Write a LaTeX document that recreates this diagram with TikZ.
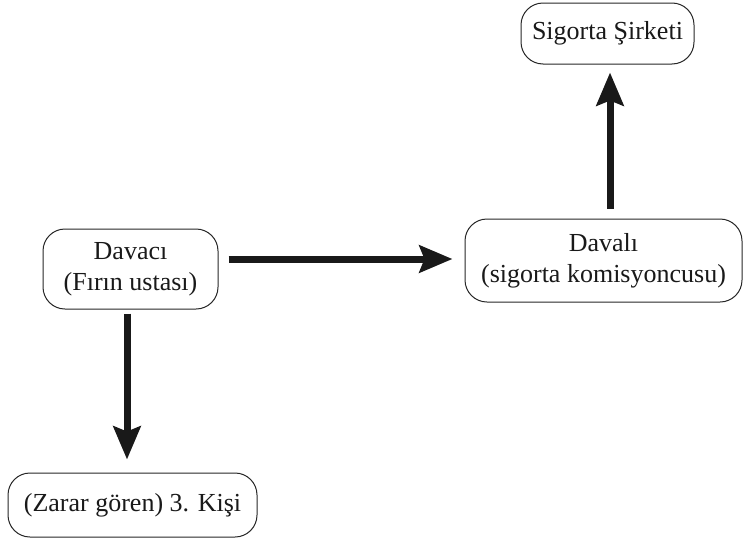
\documentclass[tikz,border=0pt]{standalone}
\usepackage{fontspec}
\setmainfont{Liberation Serif}
\usetikzlibrary{arrows.meta}
\begin{document}
\begin{tikzpicture}[x=1pt,y=-1pt,
  box/.style={draw=black!85, line width=1pt, rounded corners=22pt, align=center,
    inner sep=0pt, font=\fontsize{26pt}{31pt}\selectfont, text=black!90},
  arr/.style={line width=7pt, black!90, -{Stealth[length=33pt,width=27pt,inset=5pt]}}]
\useasboundingbox (0,0) rectangle (743,538);
\node[box, minimum width=173pt, minimum height=61pt] (sig) at (607.5,33.5) {Sigorta Şirketi};
\node[box, minimum width=175pt, minimum height=80pt] (davaci) at (130.5,269) {Davacı\\(Fırın ustası)};
\node[box, minimum width=277pt, minimum height=83pt] (davali) at (603.5,260.5) {Davalı\\(sigorta komisyoncusu)};
\node[box, minimum width=249pt, minimum height=64pt] (zarar) at (132.5,505) {(Zarar gören) 3. Kişi};
\coordinate (h1) at ([xshift=10pt,yshift=10pt]davaci.east);
\draw[arr, shorten >=12pt] (h1) -- (h1 -| davali.west);
\coordinate (u1) at ([xshift=6.5pt]davali.north);
\draw[arr, shorten <=10pt, shorten >=8pt] (u1) -- (u1 |- sig.south);
\coordinate (d1) at ([xshift=-3.5pt]davaci.south);
\draw[arr, shorten <=4pt, shorten >=13pt] (d1) -- (d1 |- zarar.north);
\end{tikzpicture}
\end{document}
